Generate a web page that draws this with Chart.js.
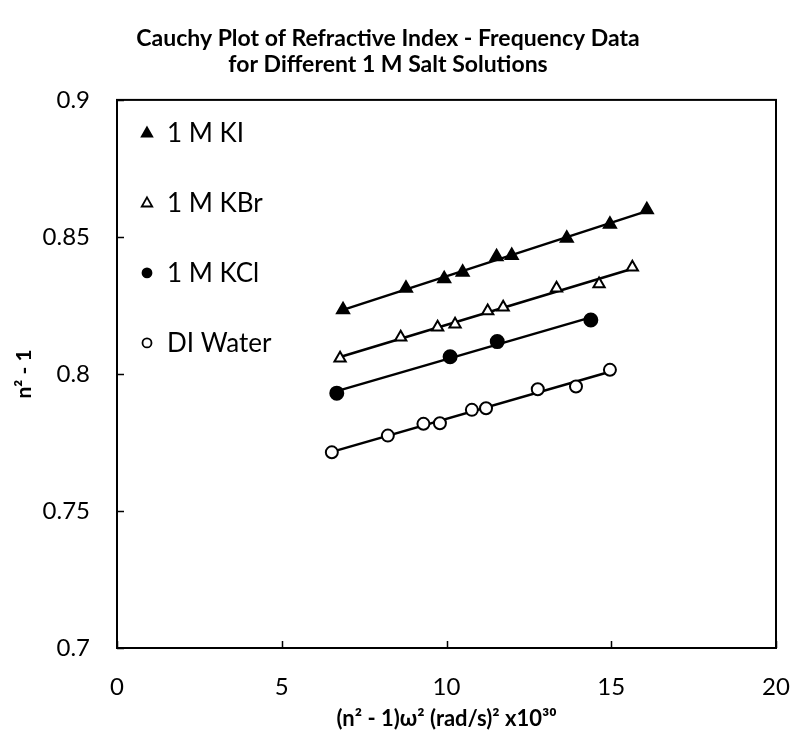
<!DOCTYPE html>
<html lang="en">
<head>
    <meta charset="UTF-8">
    <title>Cauchy Plot</title>
    <script src="https://cdn.jsdelivr.net/npm/chart.js"></script>
    <style>
        body { margin: 0; background: #fff; }
        canvas { display: block; }
    </style>
</head>
<body>
    <canvas id="cauchyChart" width="790" height="738"></canvas>

    <script>
        // values
        const kiX = [6.86, 8.77, 9.93, 10.49, 11.52, 11.98, 13.65, 14.96, 16.08];
        const kiY = [0.8234, 0.8313, 0.8347, 0.8371, 0.8428, 0.8432, 0.8495, 0.8546, 0.8599];
        const kbrX = [6.77, 8.61, 9.73, 10.26, 11.25, 11.72, 13.34, 14.63, 15.64];
        const kbrY = [0.8057, 0.8134, 0.8170, 0.8181, 0.8230, 0.8243, 0.8313, 0.8328, 0.8389];
        const kclX = [6.67, 10.11, 11.54, 14.38];
        const kclY = [0.7930, 0.8063, 0.8118, 0.8197];
        const diX = [6.52, 8.22, 9.30, 9.80, 10.77, 11.20, 12.77, 13.93, 14.96];
        const diY = [0.7714, 0.7775, 0.7818, 0.7820, 0.7869, 0.7875, 0.7944, 0.7954, 0.8015];

        const seriesNames = ['1 M KI', '1 M KBr', '1 M KCl', 'DI Water'];
        const xTicks = [0, 5, 10, 15, 20];
        const yTicks = [0.7, 0.75, 0.8, 0.85, 0.9];

        const chartTitle = ['Cauchy Plot of Refractive Index - Frequency Data', 'for Different 1 M Salt Solutions'];
        const xTitle = '(n\u00B2 - 1)\u03C9\u00B2 (rad/s)\u00B2 x10\u00B3\u2070';
        const yTitle = 'n\u00B2 - 1';

        const toPoints = (xs, ys) => xs.map((x, i) => ({ x: x, y: ys[i] }));

        // least squares trend line, from first to last x
        function trend(xs, ys) {
            const n = xs.length;
            const mx = xs.reduce((a, b) => a + b, 0) / n;
            const my = ys.reduce((a, b) => a + b, 0) / n;
            let sxy = 0, sxx = 0;
            for (let i = 0; i < n; i++) {
                sxy += (xs[i] - mx) * (ys[i] - my);
                sxx += (xs[i] - mx) * (xs[i] - mx);
            }
            const k = sxy / sxx;
            const b = my - k * mx;
            const x0 = Math.min(...xs), x1 = Math.max(...xs);
            return [{ x: x0, y: k * x0 + b }, { x: x1, y: k * x1 + b }];
        }

        const markerStyles = [
            { pointStyle: 'triangle', fill: '#000', r: 7 },
            { pointStyle: 'triangle', fill: '#fff', r: 6.5 },
            { pointStyle: 'circle', fill: '#000', r: 6.5 },
            { pointStyle: 'circle', fill: '#fff', r: 6 }
        ];
        const allX = [kiX, kbrX, kclX, diX];
        const allY = [kiY, kbrY, kclY, diY];

        const datasets = [];
        seriesNames.forEach((name, i) => {
            const m = markerStyles[i];
            datasets.push({
                type: 'scatter',
                label: name,
                data: toPoints(allX[i], allY[i]),
                pointStyle: m.pointStyle,
                pointRadius: m.r,
                pointHoverRadius: m.r,
                backgroundColor: m.fill,
                borderColor: '#000',
                borderWidth: 2,
                order: 1
            });
        });
        seriesNames.forEach((name, i) => {
            datasets.push({
                type: 'line',
                label: name + ' fit',
                data: trend(allX[i], allY[i]),
                borderColor: '#000',
                borderWidth: 2.5,
                pointRadius: 0,
                fill: false,
                order: 2
            });
        });

        // box round the plot area and inward tick marks
        const frame = {
            id: 'frame',
            afterDraw(chart) {
                const { ctx, chartArea: a } = chart;
                const xs = chart.scales.x, ys = chart.scales.y;
                ctx.save();
                ctx.strokeStyle = '#000';
                ctx.lineWidth = 1.5;
                ctx.beginPath();
                xTicks.forEach(v => {
                    const px = Math.round(xs.getPixelForValue(v)) + 0.5;
                    ctx.moveTo(px, a.bottom);
                    ctx.lineTo(px, a.bottom - 7);
                });
                yTicks.forEach(v => {
                    const py = Math.round(ys.getPixelForValue(v)) + 0.5;
                    ctx.moveTo(a.left, py);
                    ctx.lineTo(a.left + 7, py);
                });
                ctx.stroke();
                ctx.lineWidth = 2;
                ctx.strokeRect(a.left, a.top, a.right - a.left, a.bottom - a.top);
                ctx.restore();
            }
        };

        // legend in the upper left corner of the plot
        const insideLegend = {
            id: 'insideLegend',
            afterDraw(chart) {
                const { ctx, chartArea: a } = chart;
                ctx.save();
                ctx.font = '26px Lato';
                ctx.fillStyle = '#000';
                ctx.textBaseline = 'middle';
                seriesNames.forEach((name, i) => {
                    const m = markerStyles[i];
                    const cx = a.left + 30;
                    const cy = a.top + 33 + i * 70;
                    ctx.beginPath();
                    if (m.pointStyle === 'triangle') {
                        const r = 5.5;
                        ctx.moveTo(cx, cy - r);
                        ctx.lineTo(cx + r * 0.95, cy + r * 0.65);
                        ctx.lineTo(cx - r * 0.95, cy + r * 0.65);
                        ctx.closePath();
                    } else {
                        ctx.arc(cx, cy, 4.5, 0, Math.PI * 2);
                    }
                    ctx.fillStyle = m.fill;
                    ctx.fill();
                    ctx.lineWidth = 1.8;
                    ctx.strokeStyle = '#000';
                    ctx.stroke();
                    ctx.fillStyle = '#000';
                    ctx.fillText(name, a.left + 50, cy + 1);
                });
                ctx.restore();
            }
        };

        Chart.defaults.font.family = 'Lato';
        Chart.defaults.color = '#000';

        const ctx = document.getElementById('cauchyChart').getContext('2d');
        new Chart(ctx, {
            type: 'scatter',
            data: { datasets: datasets },
            options: {
                responsive: false,
                animation: false,
                layout: { padding: { left: 0, right: 14, top: 0, bottom: 0 } },
                plugins: {
                    legend: { display: false },
                    tooltip: { enabled: false },
                    title: {
                        display: true,
                        text: chartTitle,
                        color: '#000',
                        font: { size: 23, weight: 'bold', lineHeight: 1.15 },
                        padding: { top: 25, bottom: 22 }
                    }
                },
                scales: {
                    x: {
                        type: 'linear',
                        min: 0,
                        max: 20,
                        afterBuildTicks: s => { s.ticks = xTicks.map(v => ({ value: v })); },
                        afterFit: s => { s.height = 90; s.paddingLeft = 0; s.paddingRight = 0; },
                        grid: { display: false, drawTicks: false },
                        border: { display: false },
                        ticks: { font: { size: 24 }, padding: 25, callback: v => String(v) },
                        title: {
                            display: true,
                            text: xTitle,
                            font: { size: 22, weight: 'bold', lineHeight: 1.2 },
                            padding: { top: 0, bottom: 6 }
                        }
                    },
                    y: {
                        type: 'linear',
                        min: 0.7,
                        max: 0.9,
                        afterBuildTicks: s => { s.ticks = yTicks.map(v => ({ value: v })); },
                        afterFit: s => { s.width = 117; },
                        grid: { display: false, drawTicks: false },
                        border: { display: false },
                        ticks: { font: { size: 24 }, padding: 27, callback: v => String(Math.round(v * 100) / 100) },
                        title: {
                            display: true,
                            text: yTitle,
                            font: { size: 21, weight: 'bold', lineHeight: 1.2 },
                            padding: { top: 12, bottom: 0 }
                        }
                    }
                }
            },
            plugins: [frame, insideLegend]
        });
    </script>
</body>
</html>
